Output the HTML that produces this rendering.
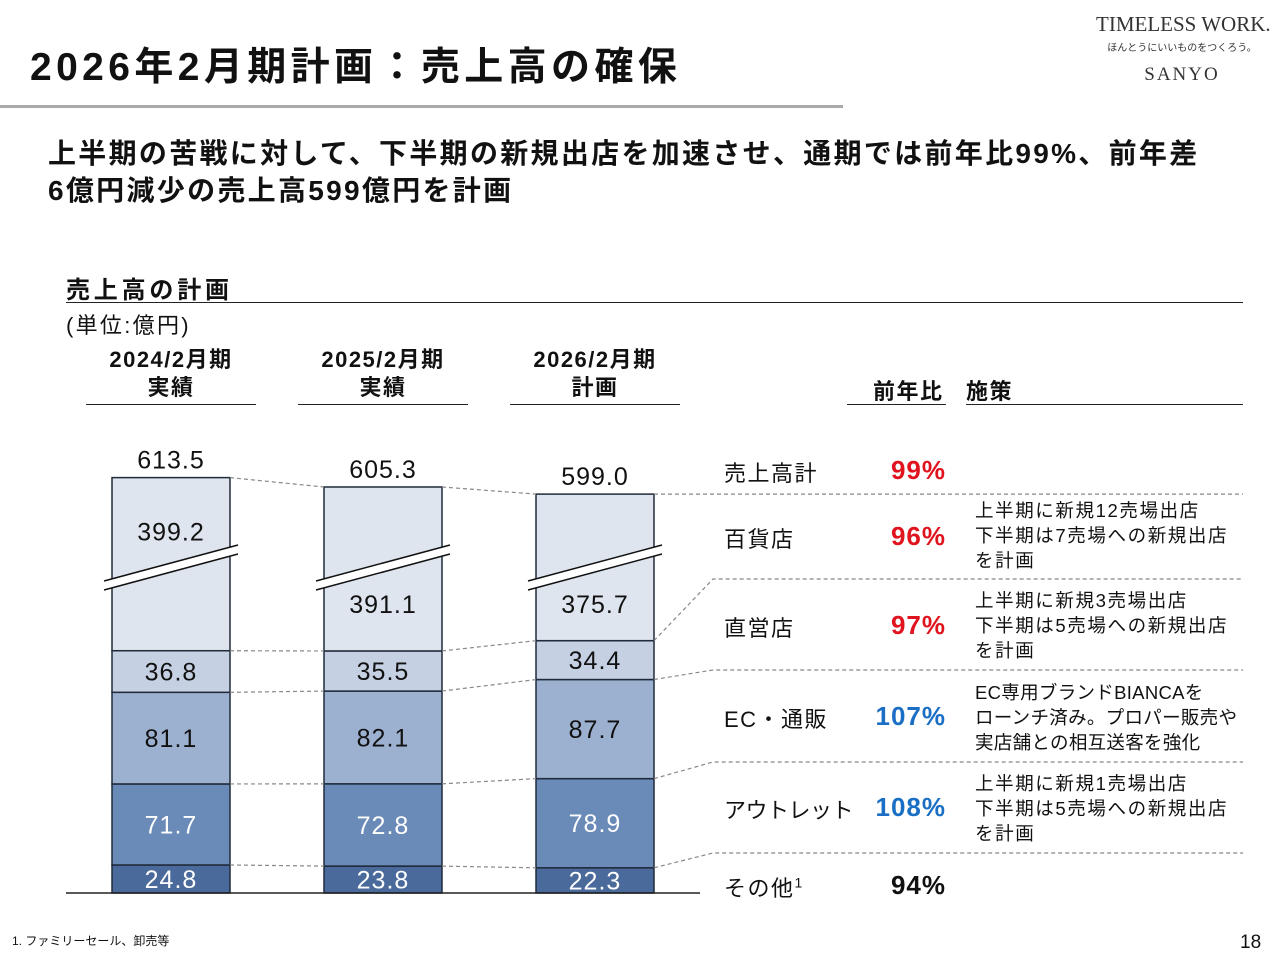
<!DOCTYPE html>
<html><head><meta charset="utf-8">
<style>
body{margin:0;width:1280px;height:960px;background:#fff;overflow:hidden;position:relative;font-family:"Liberation Sans","Noto Sans CJK JP",sans-serif;color:#111}
.a{position:absolute;white-space:nowrap}
.b{font-weight:bold}
.hl{position:absolute;height:1px;background:#222}
.pct{position:absolute;right:334px;font-weight:bold;font-size:26px;letter-spacing:1px}
.lbl{position:absolute;left:724px;font-size:22px;letter-spacing:1.5px}
.note{position:absolute;left:975px;font-size:18.5px;line-height:25px;letter-spacing:1.6px}
.hd{position:absolute;top:346px;width:170px;font-size:22px;line-height:28px;text-align:center;font-weight:bold;letter-spacing:1.5px}
</style></head><body>
<div class="a b" style="left:30px;top:36px;font-size:39px;letter-spacing:4.4px">2026年2月期計画：売上高の確保</div>
<div class="a" style="left:0;top:105px;width:843px;height:3px;background:#aaa"></div>
<div class="a" style="left:1096px;top:12px;width:172px;text-align:center;font-family:'Liberation Serif',serif;color:#333">
<div style="font-size:21px">TIMELESS WORK.</div>
<div style="font-size:10px;font-family:'Noto Sans CJK JP',sans-serif;margin-top:2px">ほんとうにいいものをつくろう。</div>
<div style="font-size:19px;letter-spacing:2px;margin-top:10px">SANYO</div></div>
<div class="a b" style="left:48px;top:135px;font-size:28px;line-height:37px;letter-spacing:2.3px">上半期の苦戦に対して、下半期の新規出店を加速させ、通期では前年比99%、前年差<br>6億円減少の売上高599億円を計画</div>
<div class="a b" style="left:66px;top:270px;font-size:24px;letter-spacing:3.8px">売上高の計画</div>
<div class="hl" style="left:66px;top:302px;width:1177px"></div>
<div class="a" style="left:66px;top:308px;font-size:22px;letter-spacing:2.3px">(単位:億円)</div>
<div class="hd" style="left:86px">2024/2月期<br>実績</div>
<div class="hd" style="left:298px">2025/2月期<br>実績</div>
<div class="hd" style="left:510px">2026/2月期<br>計画</div>
<div class="hl" style="left:86px;top:404px;width:170px"></div>
<div class="hl" style="left:298px;top:404px;width:170px"></div>
<div class="hl" style="left:510px;top:404px;width:170px"></div>
<div class="a b" style="left:873px;top:374px;font-size:22px;letter-spacing:1.5px">前年比</div>
<div class="a b" style="left:966px;top:374px;font-size:22px;letter-spacing:1.5px">施策</div>
<div class="hl" style="left:847px;top:404px;width:99px"></div>
<div class="hl" style="left:966px;top:404px;width:277px"></div>

<svg id="chart" class="a" style="left:0;top:0" width="1280" height="960"></svg>

<div class="lbl" style="top:456px">売上高計</div>
<div class="lbl" style="top:522px">百貨店</div>
<div class="lbl" style="top:611px">直営店</div>
<div class="lbl" style="top:702px">EC・通販</div>
<div class="lbl" style="top:793px;letter-spacing:-0.5px">アウトレット</div>
<div class="lbl" style="top:871px">その他<sup style="font-size:14px">1</sup></div>
<div class="pct" style="top:455px;color:#e0141e">99%</div>
<div class="pct" style="top:521px;color:#e0141e">96%</div>
<div class="pct" style="top:610px;color:#e0141e">97%</div>
<div class="pct" style="top:701px;color:#1a6fc4">107%</div>
<div class="pct" style="top:792px;color:#1a6fc4">108%</div>
<div class="pct" style="top:870px;color:#111">94%</div>
<div class="note" style="top:498px">上半期に新規12売場出店<br>下半期は7売場への新規出店<br>を計画</div>
<div class="note" style="top:588px">上半期に新規3売場出店<br>下半期は5売場への新規出店<br>を計画</div>
<div class="note" style="top:680px;letter-spacing:0.3px">EC専用ブランドBIANCAを<br>ローンチ済み。プロパー販売や<br>実店舗との相互送客を強化</div>
<div class="note" style="top:771px">上半期に新規1売場出店<br>下半期は5売場への新規出店<br>を計画</div>
<div class="a" style="left:12px;top:932px;font-size:12px">1. ファミリーセール、卸売等</div>
<div class="a" style="left:1240px;top:932px;font-size:19px">18</div>
<script>
const years=["2024/2","2025/2","2026/2"];
const other=[24.8,23.8,22.3];
const outlet=[71.7,72.8,78.9];
const ec=[81.1,82.1,87.7];
const direct=[36.8,35.5,34.4];
const dept=[399.2,391.1,375.7];
const totals=[613.5,605.3,599.0];
const svg=document.getElementById('chart');
const NS='http://www.w3.org/2000/svg';
const base=893,k=1.13,cut=246;
const barX=i=>112+i*212, bw=118;
const series=[other,outlet,ec,direct,dept];
const sNames=['other','outlet','ec','direct','department'];
const fills=['#4a6a9c','#6a8ab8','#9cb0cf','#c5d0e2','#dfe5ef'];
const txtc=['#fff','#fff','#111','#111','#111'];
function mk(t,a){const e=document.createElementNS(NS,t);for(const q in a)e.setAttribute(q,a[q]);svg.appendChild(e);return e;}
const tops=[];
for(let i=0;i<years.length;i++){
  let y=base;const ys=[];
  for(let s=0;s<series.length;s++){
    const v=series[s][i];const h=(s===4?(v-cut):v)*k;
    const r=mk('rect',{x:barX(i),y:y-h,width:bw,height:h,fill:fills[s],stroke:'#1f2a3a','stroke-width':1.5});
    
    
    const ty=s===4?(i===0?y-h+63:613):y-h/2+9;
    const t=mk('text',{x:barX(i)+bw/2,y:ty,'text-anchor':'middle','font-size':25,'letter-spacing':1,fill:txtc[s],'font-family':'Liberation Sans, sans-serif'});
    t.textContent=v.toFixed(1);
    
    
    y-=h;ys.push(y);
  }
  tops.push(ys);
  const tt=mk('text',{x:barX(i)+bw/2,y:y-9,'text-anchor':'middle','font-size':25,'letter-spacing':1,fill:'#111','font-family':'Liberation Sans, sans-serif'});
  tt.textContent=totals[i].toFixed(1);
  
  
  const bx=barX(i)-8,ex=barX(i)+bw+8;
  const br=mk('polygon',{points:`${bx},581 ${ex},545 ${ex},554 ${bx},590`,fill:'#fff'});
  
  
  mk('line',{x1:bx,y1:581,x2:ex,y2:545,stroke:'#111','stroke-width':1.5});
  mk('line',{x1:bx,y1:590,x2:ex,y2:554,stroke:'#111','stroke-width':1.5});
}
const dash={stroke:'#888','stroke-width':1.2,'stroke-dasharray':'4,3',fill:'none'};
for(let i=0;i<2;i++){
  const a=tops[i],b=tops[i+1];
  for(let s=0;s<a.length;s++){
    const l=mk('line',Object.assign({x1:barX(i)+bw,y1:a[s],x2:barX(i+1),y2:b[s]},dash));
    
    
  }
}
const rowY=[853,762,670,579];
const last=tops[2];
for(let s=0;s<4;s++){
  const l=mk('polyline',Object.assign({points:`${barX(2)+bw},${last[s]} 713,${rowY[s]} 1243,${rowY[s]}`},dash));
  
  
}
const tl=mk('line',Object.assign({x1:barX(2)+bw,y1:last[4],x2:1243,y2:last[4]},dash));


const ax=mk('line',{x1:66,y1:base,x2:700,y2:base,stroke:'#222','stroke-width':1.5});


</script>
</body></html>
